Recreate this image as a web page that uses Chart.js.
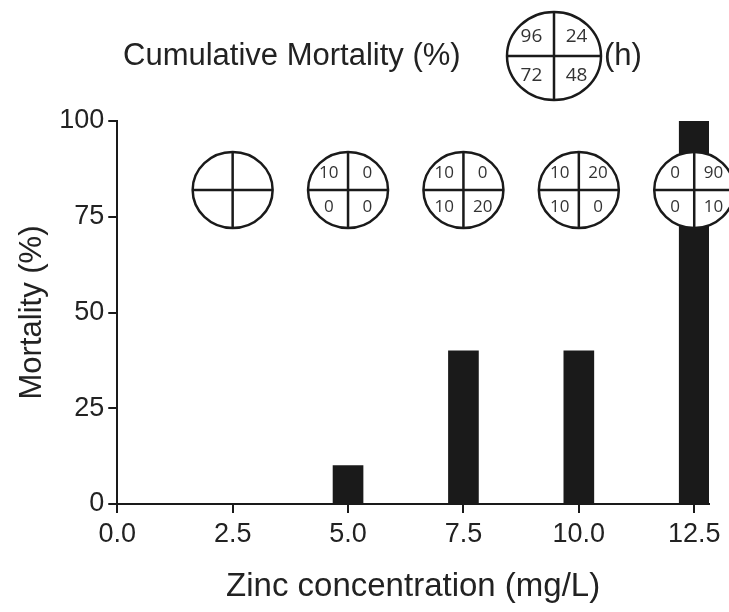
<!DOCTYPE html>
<html>
<head>
<meta charset="utf-8">
<script src="https://cdn.jsdelivr.net/npm/chart.js@4/dist/chart.umd.min.js"></script>
<style>
  body { margin: 0; background: #fff; }
  #wrap { width: 729px; height: 612px; }
</style>
</head>
<body>
<div id="wrap"><canvas id="chart"></canvas></div>
<script>
// bars: cumulative mortality at 96 h
const concentrations = [0, 2.5, 5, 7.5, 10, 12.5];
const mortality = [0, 0, 10, 40, 40, 100];
const xTicks = [0, 2.5, 5, 7.5, 10, 12.5];
const yTicks = [0, 25, 50, 75, 100];

// circles above the bars, one per concentration (quadrants: 96h 24h / 72h 48h)
const circleConc = [2.5, 5, 7.5, 10, 12.5];
const q96 = [null, 10, 10, 10, 0];
const q24 = [null, 0, 0, 20, 90];
const q72 = [null, 0, 10, 10, 0];
const q48 = [null, 0, 20, 0, 10];
const keyHours = [96, 24, 72, 48];

const ink = '#1a1a1a';
const textCol = '#222';

function drawCircle(ctx, cx, cy, rx, ry, vals, fontSize) {
    ctx.save();
    ctx.beginPath();
    ctx.ellipse(cx, cy, rx, ry, 0, 0, Math.PI * 2);
    ctx.fillStyle = '#fff';
    ctx.fill();
    ctx.lineWidth = 2.5;
    ctx.strokeStyle = ink;
    ctx.stroke();
    ctx.beginPath();
    ctx.moveTo(cx - rx, cy); ctx.lineTo(cx + rx, cy);
    ctx.moveTo(cx, cy - ry); ctx.lineTo(cx, cy + ry);
    ctx.stroke();
    ctx.fillStyle = '#333';
    ctx.font = fontSize + 'px "Open Sans"';
    ctx.textAlign = 'center';
    ctx.textBaseline = 'middle';
    const dx = rx * 0.48, dy = ry * 0.45;
    const pos = [[-dx, -dy], [dx, -dy], [-dx, dy], [dx, dy]];
    vals.forEach((v, i) => {
        if (v === null) return;
        ctx.fillText(String(v), cx + pos[i][0], cy + pos[i][1]);
    });
    ctx.restore();
}

const circlePlugin = {
    id: 'circles',
    afterDatasetsDraw(chart) {
        const ctx = chart.ctx;
        const xs = chart.scales.x, ys = chart.scales.y;
        const cy = ys.getPixelForValue(82);
        for (let i = 0; i < circleConc.length; i++) {
            const cx = xs.getPixelForValue(circleConc[i]);
            drawCircle(ctx, cx, cy, 40, 38, [q96[i], q24[i], q72[i], q48[i]], 17);
        }
        // header + key circle
        ctx.save();
        ctx.fillStyle = textCol;
        ctx.font = '31px "Liberation Sans"';
        ctx.textBaseline = 'middle';
        ctx.textAlign = 'left';
        ctx.fillText('Cumulative Mortality (%)', 123, 56);
        ctx.fillText('(h)', 604, 56);
        ctx.restore();
        drawCircle(ctx, 554, 56, 47, 44, keyHours, 19);
    }
};

new Chart(document.getElementById('chart'), {
    type: 'bar',
    data: {
        datasets: [{
            data: concentrations.map((c, i) => ({ x: c, y: mortality[i] })),
            backgroundColor: ink,
            borderWidth: 0,
            barThickness: 30
        }]
    },
    options: {
        responsive: true,
        maintainAspectRatio: false,
        animation: false,
        layout: { padding: { top: 121, right: 20, left: 14, bottom: 5 } },
        plugins: { legend: { display: false }, tooltip: { enabled: false } },
        scales: {
            x: {
                type: 'linear',
                offset: false,
                min: 0,
                max: 12.82,
                afterBuildTicks: s => { s.ticks = xTicks.map(v => ({ value: v })); },
                ticks: {
                    color: textCol,
                    font: { family: 'Liberation Sans', size: 27 },
                    padding: 5,
                    maxRotation: 0,
                    callback: v => Number(v).toFixed(1)
                },
                grid: { offset: false, drawOnChartArea: false, tickLength: 9, color: ink, lineWidth: 2 },
                border: { color: ink, width: 2 },
                title: {
                    display: true,
                    text: 'Zinc concentration (mg/L)',
                    color: textCol,
                    font: { family: 'Liberation Sans', size: 33 },
                    padding: { top: 12, bottom: 0 }
                }
            },
            y: {
                min: 0,
                max: 100,
                afterBuildTicks: s => { s.ticks = yTicks.map(v => ({ value: v })); },
                ticks: {
                    color: textCol,
                    font: { family: 'Liberation Sans', size: 27 },
                    padding: 4
                },
                grid: { drawOnChartArea: false, tickLength: 9, color: ink, lineWidth: 2 },
                border: { color: ink, width: 2 },
                title: {
                    display: true,
                    text: 'Mortality (%)',
                    color: textCol,
                    font: { family: 'Liberation Sans', size: 31 },
                    padding: { top: 0, bottom: 4 }
                }
            }
        }
    },
    plugins: [circlePlugin]
});
</script>
</body>
</html>
